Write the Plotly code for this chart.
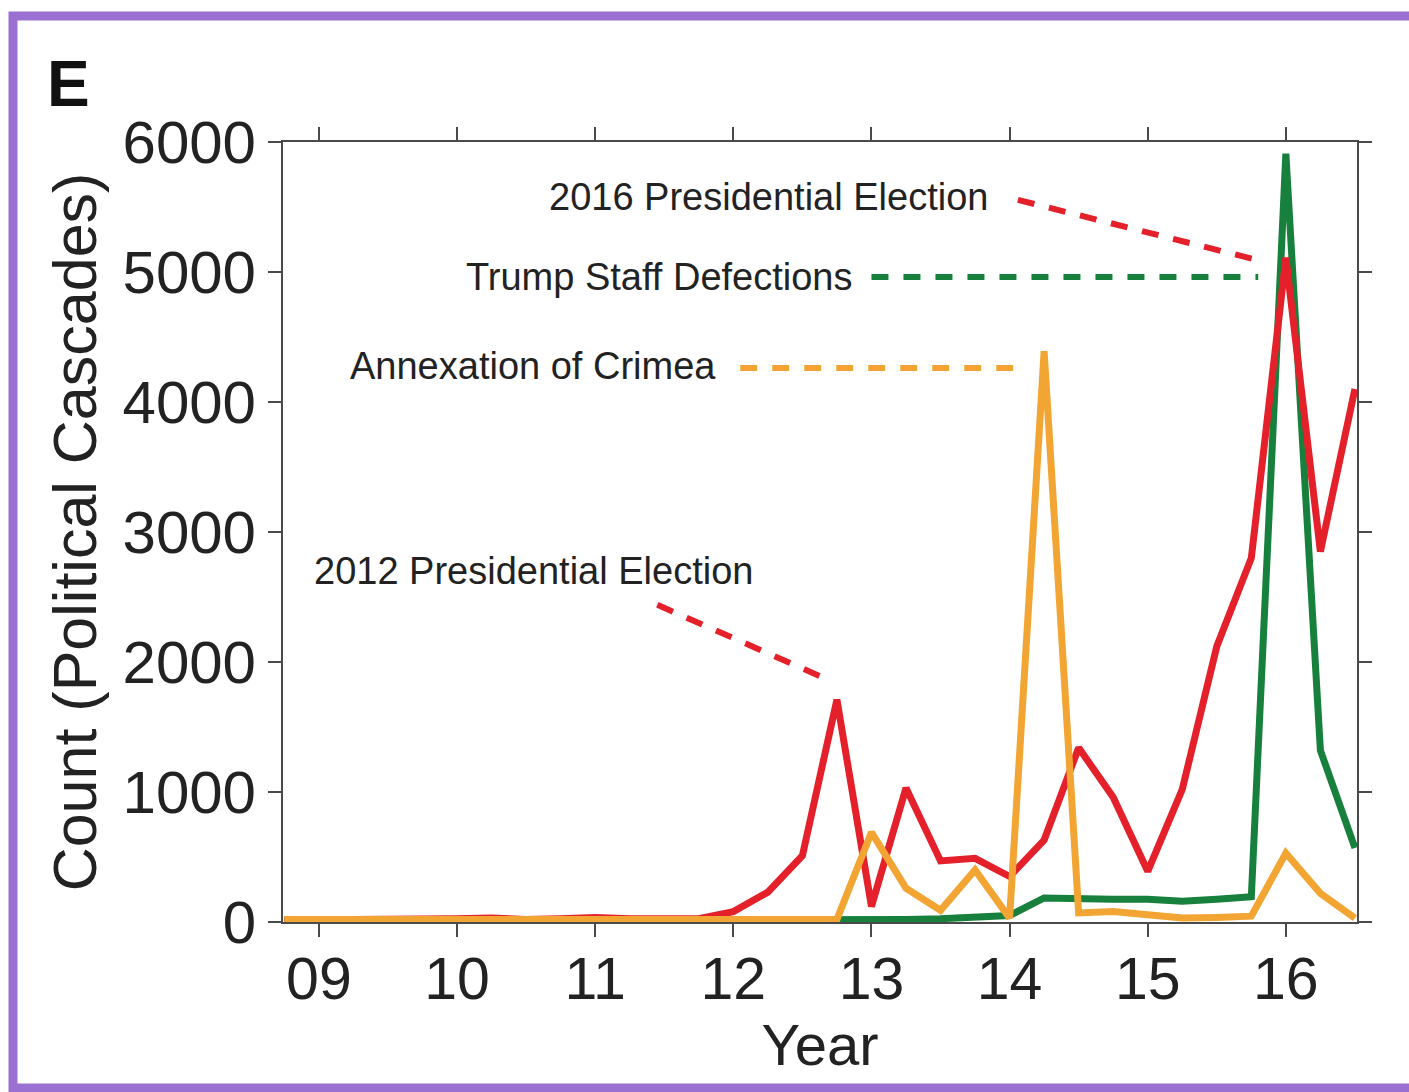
import plotly.graph_objects as go

# ---- data (quarterly, year numbers as 2-digit years) ----
quarters = [8.75, 9.0, 9.25, 9.5, 9.75, 10.0, 10.25, 10.5, 10.75, 11.0, 11.25, 11.5,
            11.75, 12.0, 12.25, 12.5, 12.75, 13.0, 13.25, 13.5, 13.75, 14.0, 14.25, 14.5,
            14.75, 15.0, 15.25, 15.5, 15.75, 16.0, 16.25, 16.5]

red_vals = [15, 15, 15, 15, 20, 25, 30, 20, 25, 35, 25, 20,
            25, 80, 230, 510, 1710, 120, 1030, 470, 490, 350, 630, 1340,
            960, 390, 1020, 2120, 2800, 5110, 2850, 4100]

green_vals = [10, 10, 10, 10, 10, 10, 10, 10, 10, 10, 10, 10,
              10, 10, 10, 10, 10, 15, 20, 25, 35, 50, 185, 175,
              175, 175, 160, 175, 195, 5910, 1320, 570]

orange_vals = [20, 20, 20, 20, 20, 20, 20, 20, 20, 20, 20, 20,
               20, 20, 25, 30, 20, 690, 260, 90, 400, 30, 4390, 70,
               80, 55, 30, 35, 45, 530, 220, 30]

xtick_vals = [9, 10, 11, 12, 13, 14, 15, 16]
xtick_text = ["09", "10", "11", "12", "13", "14", "15", "16"]
ytick_vals = [0, 1000, 2000, 3000, 4000, 5000, 6000]

# annotation labels: text, anchor (right edge) x, y
label_texts = ["2016 Presidential Election", "Trump Staff Defections",
               "Annexation of Crimea", "2012 Presidential Election"]
label_x = [13.86, 12.88, 11.89, 12.16]
label_y = [5575, 4960, 4280, 2700]

# leader lines: (x0, y0, x1, y1)
leader_x0 = [14.06, 13.00, 12.05, 11.45]
leader_y0 = [5555, 4962, 4262, 2440]
leader_x1 = [15.85, 15.80, 14.13, 12.69]
leader_y1 = [5077, 4962, 4262, 1862]

RED = "#e4202a"
GREEN = "#16803c"
ORANGE = "#f2a532"
leader_colors = [RED, GREEN, ORANGE, RED]

TXT = "#222222"
AX = "#4a4a4a"

fig = go.Figure()
fig.add_trace(go.Scatter(x=quarters, y=green_vals, mode="lines",
                         line=dict(color=GREEN, width=7), showlegend=False))
fig.add_trace(go.Scatter(x=quarters, y=red_vals, mode="lines",
                         line=dict(color=RED, width=7), showlegend=False))
fig.add_trace(go.Scatter(x=quarters, y=orange_vals, mode="lines",
                         line=dict(color=ORANGE, width=7), showlegend=False))

shapes = []
for x0, y0, x1, y1, c in zip(leader_x0, leader_y0, leader_x1, leader_y1, leader_colors):
    shapes.append(dict(type="line", xref="x", yref="y", x0=x0, y0=y0, x1=x1, y1=y1,
                       line=dict(color=c, width=6, dash="17px,15px")))

# purple frame
shapes.append(dict(type="rect", xref="paper", yref="paper",
                   x0=-0.2514, x1=1.06, y0=-0.2128, y1=1.1615,
                   line=dict(color="#9a70d2", width=9), fillcolor="rgba(0,0,0,0)",
                   layer="above"))

annotations = []
for t, x, y in zip(label_texts, label_x, label_y):
    annotations.append(dict(text=t, x=x, y=y, xref="x", yref="y",
                            xanchor="right", yanchor="middle", showarrow=False,
                            font=dict(family="Liberation Sans, Arial, sans-serif",
                                      size=38, color=TXT)))
annotations.append(dict(text="<b>E</b>", x=-0.222, y=1.075, xref="paper", yref="paper",
                        xanchor="left", yanchor="middle", showarrow=False,
                        font=dict(family="Liberation Sans, Arial, sans-serif", size=64, color="#111111")))

fig.update_layout(
    width=1409, height=1092,
    margin=dict(l=283, r=52, t=142, b=170),
    paper_bgcolor="white", plot_bgcolor="white",
    shapes=shapes, annotations=annotations,
    font=dict(family="Liberation Sans, Arial, sans-serif", color=TXT),
    showlegend=False,
)
fig.update_xaxes(range=[8.74, 16.515], tickvals=xtick_vals, ticktext=xtick_text,
                 showgrid=False, zeroline=False, showline=True, linecolor=AX, linewidth=2,
                 mirror="ticks", ticks="outside", ticklen=13, tickwidth=2, tickcolor=AX,
                 tickfont=dict(size=59, color=TXT), ticklabelstandoff=-9,
                 title=dict(text="Year", font=dict(size=58, color=TXT), standoff=4))
fig.update_yaxes(range=[0, 6000], tickvals=ytick_vals,
                 showgrid=False, zeroline=False, showline=True, linecolor=AX, linewidth=2,
                 mirror="ticks", ticks="outside", ticklen=13, tickwidth=2, tickcolor=AX,
                 tickfont=dict(size=60, color=TXT),
                 title=dict(text="Count (Political Cascades)", font=dict(size=61, color=TXT), standoff=6))

fig.write_html("out.html")
